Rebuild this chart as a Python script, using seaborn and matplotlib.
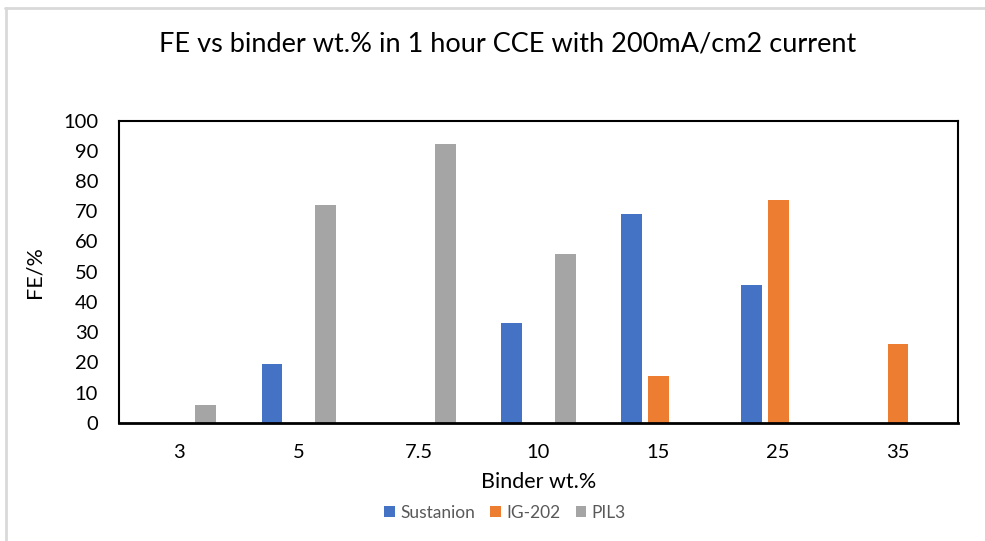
import matplotlib
matplotlib.use("Agg")
import matplotlib.pyplot as plt
import seaborn as sns
import pandas as pd
import numpy as np
from matplotlib.lines import Line2D
from matplotlib.patches import Patch

categories = ["3", "5", "7.5", "10", "15", "25", "35"]
sustanion = [np.nan, 19.3, np.nan, 33.1, 69.0, 45.6, np.nan]
ig202 = [np.nan, np.nan, np.nan, np.nan, 15.5, 73.8, 26.2]
pil3 = [5.8, 72.0, 92.2, 55.9, np.nan, np.nan, np.nan]
series_names = ["Sustanion", "IG-202", "PIL3"]
colors = ["#4472C4", "#ED7D31", "#A5A5A5"]

rows = []
for name, vals in zip(series_names, [sustanion, ig202, pil3]):
    for c, v in zip(categories, vals):
        rows.append({"Binder": c, "FE": v, "Series": name})
df = pd.DataFrame(rows)

sns.set_theme(style="white")
plt.rcParams["font.family"] = ["Lato", "DejaVu Sans"]

fig = plt.figure(figsize=(9.85, 5.41), dpi=100)
ax = fig.add_axes([119 / 985, 1 - 422.7 / 541, (958 - 119) / 985, (422.7 - 120.7) / 541])

sns.barplot(data=df, x="Binder", y="FE", hue="Series", order=categories,
            hue_order=series_names, palette=colors, width=0.6675, gap=0.225,
            dodge=True, ax=ax, legend=False, saturation=1, linewidth=0)

ax.set_xlim(-0.5, len(categories) - 0.5)
ax.set_ylim(0, 100)
ax.set_yticks(range(0, 101, 10))
for s in ax.spines.values():
    s.set_visible(True)
    s.set_color("black")
    s.set_linewidth(1.5)
ax.spines["bottom"].set_linewidth(2.0)
ax.tick_params(axis="both", length=0, labelsize=14.5, colors="black")
ax.tick_params(axis="y", pad=15)
ax.tick_params(axis="x", pad=15)
ax.set_xlabel("Binder wt.%", fontsize=15.5, color="black", labelpad=8)
ax.set_ylabel("FE/%", fontsize=15.5, color="black", labelpad=13)
ax.grid(False)

fig.text(508 / 985, 1 - 44 / 541, "FE vs binder wt.% in 1 hour CCE with 200mA/cm2 current",
         ha="center", va="center", fontsize=19.5, color="black")

handles = [Patch(facecolor=c, edgecolor="none") for c in colors]
fig.legend(handles, series_names, loc="center", bbox_to_anchor=(505 / 985, 1 - 513 / 541),
           ncol=3, frameon=False, fontsize=12.5, handlelength=0.6, handleheight=0.6,
           handletextpad=0.3, columnspacing=0.9, labelcolor="#595959")

# chart area border (top and left visible)
fig.add_artist(Line2D([5 / 985, 1.0], [1 - 7.5 / 541, 1 - 7.5 / 541], color="#D9D9D9",
                      linewidth=2, transform=fig.transFigure))
fig.add_artist(Line2D([5.5 / 985, 5.5 / 985], [0, 1 - 7.5 / 541], color="#D9D9D9",
                      linewidth=2, transform=fig.transFigure))

fig.savefig("out.png", dpi=100)
